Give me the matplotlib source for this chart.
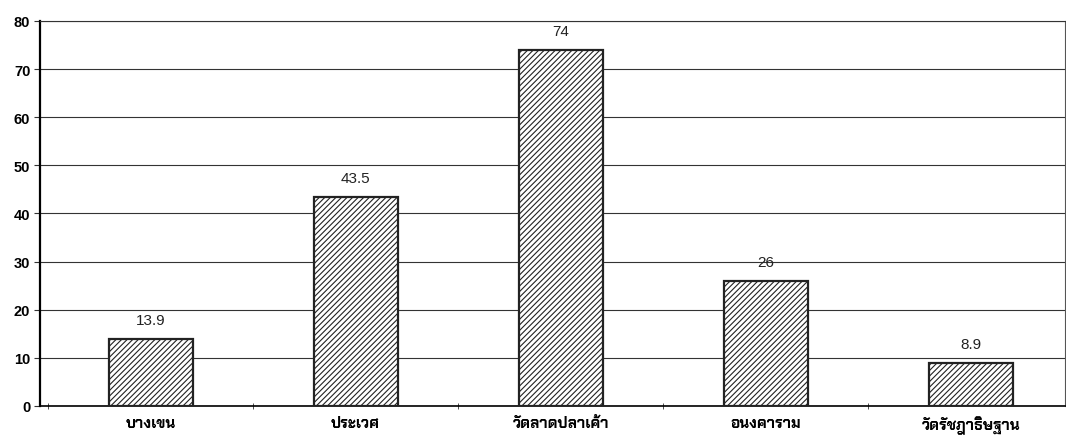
import matplotlib
matplotlib.use("Agg")
import matplotlib.pyplot as plt
import numpy as np

districts = ["บางเขน", "ประเวศ", "วัดลาดปลาเค้า", "อนงคาราม", "วัดรัชฎาธิษฐาน"]
values = [13.9, 43.5, 74, 26, 8.9]
value_labels = ["13.9", "43.5", "74", "26", "8.9"]

plt.rcParams['font.family'] = ['Liberation Sans', 'Chakra Petch', 'DejaVu Sans']
plt.rcParams['hatch.linewidth'] = 0.8

fig = plt.figure(figsize=(10.66, 4.39), dpi=100)
ax = fig.add_axes([0.0375, 0.073, 0.9615, 0.877])

x = np.arange(len(districts))
ax.bar(x, values, width=0.41, color="white", edgecolor="#222222",
       hatch="//////", linewidth=1.6, zorder=3)

for xi, v, lab in zip(x, values, value_labels):
    ax.text(xi, v + 2.5, lab, ha="center", va="bottom", fontsize=11, color="#222222")

ax.set_xlim(-0.54, len(districts) - 0.54)
ax.set_ylim(0, 80)
ax.set_yticks(range(0, 81, 10))
ax.set_yticklabels([str(t) for t in range(0, 81, 10)], fontsize=10.5, fontweight="bold")
ax.yaxis.grid(True, color="#333333", linewidth=0.8)
ax.set_axisbelow(True)

ax.set_xticks(x)
ax.set_xticklabels(districts, fontsize=11, fontweight="bold")
ax.set_xticks(np.arange(-0.5, len(districts) - 0.5), minor=True)
ax.tick_params(axis="x", which="major", length=0, pad=7)
ax.tick_params(axis="x", which="minor", length=5, direction="inout", color="#333333")
ax.tick_params(axis="y", length=4, color="#333333", pad=3)

ax.spines["right"].set_linewidth(0.8)
ax.spines["right"].set_color("#555555")
ax.spines["top"].set_linewidth(0.8)
ax.spines["top"].set_color("#333333")
ax.spines["left"].set_linewidth(1.6)
ax.spines["bottom"].set_linewidth(1.2)

fig.savefig("out.png")
